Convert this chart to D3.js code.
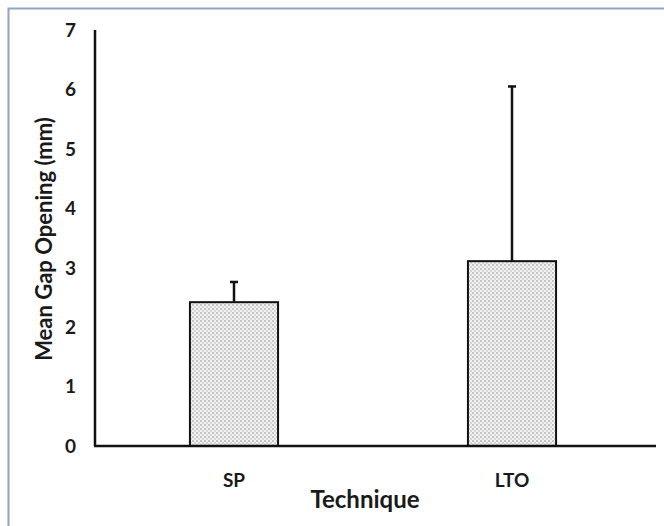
<!DOCTYPE html>
<html>
<head>
<meta charset="utf-8">
<script src="https://cdn.jsdelivr.net/npm/d3@7"></script>
<style>
  body { margin: 0; background: #fff; }
  svg { display: block; font-family: Lato, "Open Sans", sans-serif; }
</style>
</head>
<body>
<svg id="chart" width="664" height="526"></svg>
<script>
// data
const techniques = ["SP", "LTO"];
const meanGap = [2.42, 3.11];
const errUpper = [0.34, 2.94];
const yTicks = [0, 1, 2, 3, 4, 5, 6, 7];

const svg = d3.select('#chart');

// frame
svg.append('path')
    .attr('d', 'M8.5,526 V8.5 H664')
    .attr('fill', 'none')
    .attr('stroke', '#8ea5c6')
    .attr('stroke-width', 2);

// dotted fill
const defs = svg.append('defs');
const pat = defs.append('pattern')
    .attr('id', 'dots')
    .attr('width', 4).attr('height', 4)
    .attr('patternUnits', 'userSpaceOnUse');
pat.append('rect').attr('width', 4).attr('height', 4).attr('fill', '#f2f2f2');
pat.append('circle').attr('cx', 1).attr('cy', 1).attr('r', 0.8).attr('fill', '#8c8c8c');
pat.append('circle').attr('cx', 3).attr('cy', 3).attr('r', 0.8).attr('fill', '#b0b0b0');

const x = d3.scaleBand()
    .domain(techniques)
    .range([95, 651])
    .paddingInner(0.683)
    .paddingOuter(0.3415);

const y = d3.scaleLinear()
    .domain([0, 7])
    .range([446, 30]);

// y tick labels
svg.selectAll('.ylab')
    .data(yTicks)
    .enter()
    .append('text')
    .attr('class', 'ylab')
    .attr('x', 76)
    .attr('y', d => y(d))
    .attr('dy', '0.36em')
    .attr('text-anchor', 'end')
    .attr('font-size', 19)
    .attr('font-weight', 'bold')
    .attr('fill', '#1a1a1a')
    .text(d => d);

// bars
const bars = techniques.map((t, i) => ({ t, v: meanGap[i], e: errUpper[i] }));

svg.selectAll('.bar')
    .data(bars)
    .enter()
    .append('rect')
    .attr('class', 'bar')
    .attr('x', d => x(d.t))
    .attr('y', d => y(d.v))
    .attr('width', x.bandwidth())
    .attr('height', d => y(0) - y(d.v))
    .attr('fill', 'url(#dots)')
    .attr('stroke', '#111')
    .attr('stroke-width', 2);

// error bars (upper only)
const eb = svg.selectAll('.err')
    .data(bars)
    .enter()
    .append('g')
    .attr('class', 'err')
    .attr('stroke', '#111')
    .attr('stroke-width', 2.5);
eb.append('line')
    .attr('x1', d => x(d.t) + x.bandwidth() / 2)
    .attr('x2', d => x(d.t) + x.bandwidth() / 2)
    .attr('y1', d => y(d.v))
    .attr('y2', d => y(d.v + d.e));
eb.append('line')
    .attr('x1', d => x(d.t) + x.bandwidth() / 2 - 4)
    .attr('x2', d => x(d.t) + x.bandwidth() / 2 + 4)
    .attr('y1', d => y(d.v + d.e))
    .attr('y2', d => y(d.v + d.e));

// axes lines
svg.append('line')
    .attr('x1', 95).attr('x2', 95)
    .attr('y1', y(7)).attr('y2', y(0))
    .attr('stroke', '#111').attr('stroke-width', 2.5);
svg.append('line')
    .attr('x1', 94).attr('x2', 656)
    .attr('y1', y(0)).attr('y2', y(0))
    .attr('stroke', '#111').attr('stroke-width', 2.5);

// category labels
svg.selectAll('.xlab')
    .data(techniques)
    .enter()
    .append('text')
    .attr('class', 'xlab')
    .attr('x', d => x(d) + x.bandwidth() / 2)
    .attr('y', 487)
    .attr('text-anchor', 'middle')
    .attr('font-size', 19)
    .attr('font-weight', 'bold')
    .attr('fill', '#1a1a1a')
    .text(d => d);

// axis titles
svg.append('text')
    .attr('x', 365)
    .attr('y', 508)
    .attr('text-anchor', 'middle')
    .attr('font-size', 24)
    .attr('font-weight', 'bold')
    .attr('fill', '#1a1a1a')
    .text('Technique');

svg.append('text')
    .attr('transform', 'translate(52,239) rotate(-90)')
    .attr('text-anchor', 'middle')
    .attr('font-size', 22)
    .attr('font-weight', 'bold')
    .attr('fill', '#1a1a1a')
    .text('Mean Gap Opening (mm)');
</script>
</body>
</html>
